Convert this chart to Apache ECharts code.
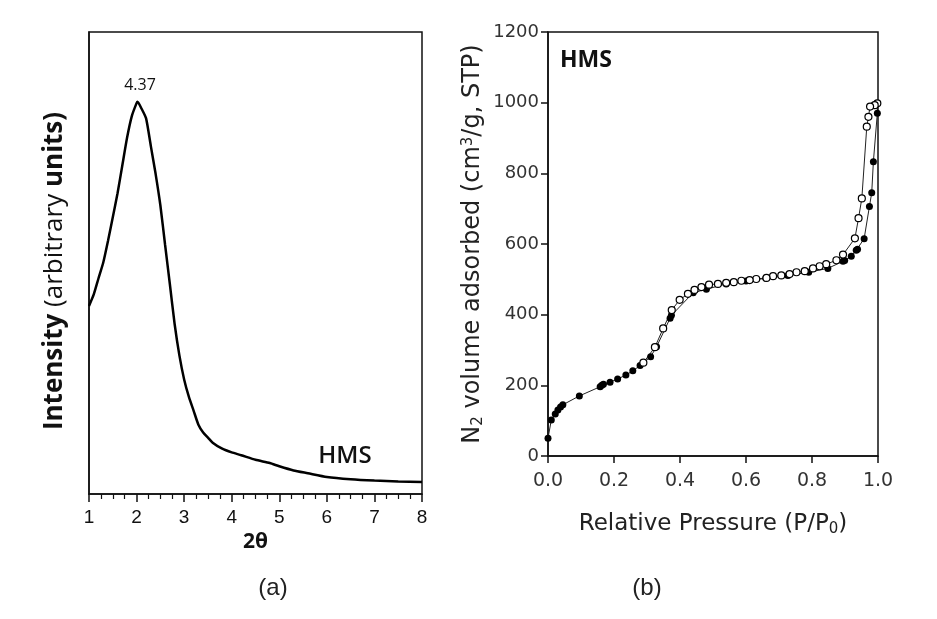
<!DOCTYPE html>
<html>
<head>
<meta charset="utf-8">
<script src="https://cdn.jsdelivr.net/npm/echarts@6/dist/echarts.min.js"></script>
<style>
html,body{margin:0;padding:0;background:#fff;}
#charts{width:937px;height:619px;}
</style>
</head>
<body>
<div id="charts"></div>
<script>
// (a) XRD pattern, 2theta vs intensity (arbitrary units, 0-100 of the box)
var xrdTheta = [1.0,1.1,1.2,1.3,1.4,1.5,1.6,1.7,1.8,1.9,2.0,2.02,2.1,2.2,2.3,2.4,2.5,2.6,2.7,2.8,2.9,3.0,3.1,3.2,3.3,3.4,3.5,3.6,3.8,4.0,4.2,4.5,4.8,5.0,5.3,5.6,6.0,6.5,7.0,7.5,8.0];
var xrdIntensity = [40.7,43.2,46.7,50.1,54.8,59.9,65.1,71.1,77.1,81.8,84.6,84.9,83.5,81.3,75.3,69.3,62.5,53.9,45.4,36.8,30.0,24.8,21.0,18.0,15.0,13.3,12.2,11.1,9.8,9.0,8.4,7.4,6.7,6.0,5.1,4.5,3.7,3.2,2.9,2.7,2.6];

// (b) N2 isotherm
var adsP = [0,0.01,0.022,0.03,0.038,0.045,0.095,0.158,0.163,0.168,0.188,0.211,0.236,0.257,0.279,0.311,0.329,0.37,0.374,0.44,0.48,0.54,0.6,0.66,0.727,0.79,0.848,0.894,0.899,0.919,0.934,0.938,0.958,0.974,0.981,0.986,0.998,0.998];
var adsV = [50,102,119,130,139,145,170,196,200,203,209,218,229,241,256,281,309,390,398,462,472,487,495,503,511,520,531,551,553,565,582,585,615,706,745,833,970,998];
var desP = [0.998,0.99,0.976,0.971,0.966,0.951,0.941,0.930,0.894,0.874,0.843,0.823,0.803,0.778,0.753,0.732,0.707,0.682,0.662,0.631,0.611,0.586,0.563,0.54,0.515,0.488,0.465,0.444,0.424,0.399,0.375,0.349,0.324,0.289];
var desV = [998,993,989,960,932,729,673,616,570,554,543,537,531,523,520,515,511,509,504,501,498,496,492,490,487,485,478,470,459,442,413,361,308,264];

function pairs(xs,ys){
	var out = [];
	for(var i=0;i<xs.length;i++){
		out.push([xs[i],ys[i]]);
	}
	return out;
}

var charts = echarts.init(document.getElementById("charts"));
var lineStyleAxis = {color:'#111',width:1.5};
var fontA = 'Liberation Sans, Arial, sans-serif';
var fontB = 'DejaVu Sans, sans-serif';
var fontC = 'Open Sans, sans-serif';

var option = {
	backgroundColor:'#fff',
	animation:false,
	grid:[
		{left:89,top:32,width:333,height:462,show:true,borderColor:'#111',borderWidth:1.5},
		{left:548,top:32,width:330,height:424,show:true,borderColor:'#111',borderWidth:1.5}
	],
	xAxis:[{
		gridIndex:0,type:'value',min:1,max:8,interval:1,
		axisLine:{lineStyle:lineStyleAxis},
		axisTick:{inside:false,length:8,lineStyle:lineStyleAxis},
		minorTick:{show:true,splitNumber:4,length:5,lineStyle:{color:'#111',width:1.2}},
		splitLine:{show:false},
		axisLabel:{fontSize:19,color:'#111',fontFamily:fontA,margin:14},
		name:'2θ',nameLocation:'middle',nameGap:38,
		nameTextStyle:{fontSize:21,fontWeight:'bold',color:'#111',fontFamily:fontC}
	},{
		gridIndex:1,type:'value',min:0,max:1,interval:0.2,
		axisLine:{lineStyle:lineStyleAxis},
		axisTick:{length:7,lineStyle:lineStyleAxis},
		splitLine:{show:false},
		axisLabel:{fontSize:19,color:'#333',fontFamily:fontB,margin:16,
			formatter:function(v){return v.toFixed(1);}},
		name:'{t|Relative Pressure (P/P}{s|0}{t|)}',nameLocation:'middle',nameGap:56,
		nameTextStyle:{rich:{
			t:{fontSize:23,color:'#222',fontFamily:fontB},
			s:{fontSize:15,color:'#222',fontFamily:fontB,verticalAlign:'bottom',padding:[10,0,0,0]}
		}}
	}],
	yAxis:[{
		gridIndex:0,type:'value',min:0,max:100,
		axisLine:{show:true,lineStyle:lineStyleAxis},
		axisTick:{show:false},axisLabel:{show:false},splitLine:{show:false}
	},{
		gridIndex:1,type:'value',min:0,max:1200,interval:200,
		axisLine:{show:true,lineStyle:lineStyleAxis},
		axisTick:{length:7,lineStyle:lineStyleAxis},
		splitLine:{show:false},
		axisLabel:{fontSize:18,color:'#333',fontFamily:fontB,margin:9,
			formatter:function(v){return String(v);}}
	}],
	series:[{
		name:'XRD',type:'line',xAxisIndex:0,yAxisIndex:0,
		data:pairs(xrdTheta,xrdIntensity),
		showSymbol:false,smooth:0.2,
		lineStyle:{color:'#000',width:2.5}
	},{
		name:'adsorption',type:'line',xAxisIndex:1,yAxisIndex:1,
		data:pairs(adsP,adsV),
		symbol:'circle',symbolSize:7,
		itemStyle:{color:'#000'},
		lineStyle:{color:'#222',width:1}
	},{
		name:'desorption',type:'line',xAxisIndex:1,yAxisIndex:1,
		data:pairs(desP,desV),
		symbol:'circle',symbolSize:7,
		itemStyle:{color:'#fff',borderColor:'#000',borderWidth:1.2},
		lineStyle:{color:'#222',width:1}
	}],
	graphic:[{
		type:'text',x:55,y:271,rotation:Math.PI/2,
		style:{text:'{b|Intensity }{n|(arbitrary }{b|units)}',align:'center',verticalAlign:'middle',
			rich:{
				b:{fontSize:26,fontWeight:'bold',fill:'#111',fontFamily:fontC},
				n:{fontSize:26,fontWeight:'normal',fill:'#111',fontFamily:fontC}
			}}
	},{
		type:'text',x:473,y:244,rotation:Math.PI/2,
		style:{text:'{t|N}{s|2}{t| volume adsorbed (cm}{p|3}{t|/g, STP)}',align:'center',verticalAlign:'middle',
			rich:{
				t:{fontSize:24,fill:'#222',fontFamily:fontB},
				s:{fontSize:15,fill:'#222',fontFamily:fontB,verticalAlign:'bottom',padding:[10,0,0,0]},
				p:{fontSize:15,fill:'#222',fontFamily:fontB,verticalAlign:'top',padding:[0,0,10,0]}
			}}
	},{
		type:'text',x:140,y:85,
		style:{text:'4.37',align:'center',verticalAlign:'middle',fontSize:16,fill:'#111',fontFamily:fontC}
	},{
		type:'text',x:345,y:456,
		style:{text:'HMS',align:'center',verticalAlign:'middle',fontSize:24,fontWeight:600,fill:'#111',fontFamily:fontC}
	},{
		type:'text',x:586,y:60,
		style:{text:'HMS',align:'center',verticalAlign:'middle',fontSize:23,fontWeight:'bold',fill:'#111',fontFamily:fontC}
	},{
		type:'text',x:273,y:588,
		style:{text:'(a)',align:'center',verticalAlign:'middle',fontSize:24,fill:'#222',fontFamily:fontA}
	},{
		type:'text',x:647,y:588,
		style:{text:'(b)',align:'center',verticalAlign:'middle',fontSize:24,fill:'#222',fontFamily:fontA}
	}]
};
charts.setOption(option);
</script>
</body>
</html>
